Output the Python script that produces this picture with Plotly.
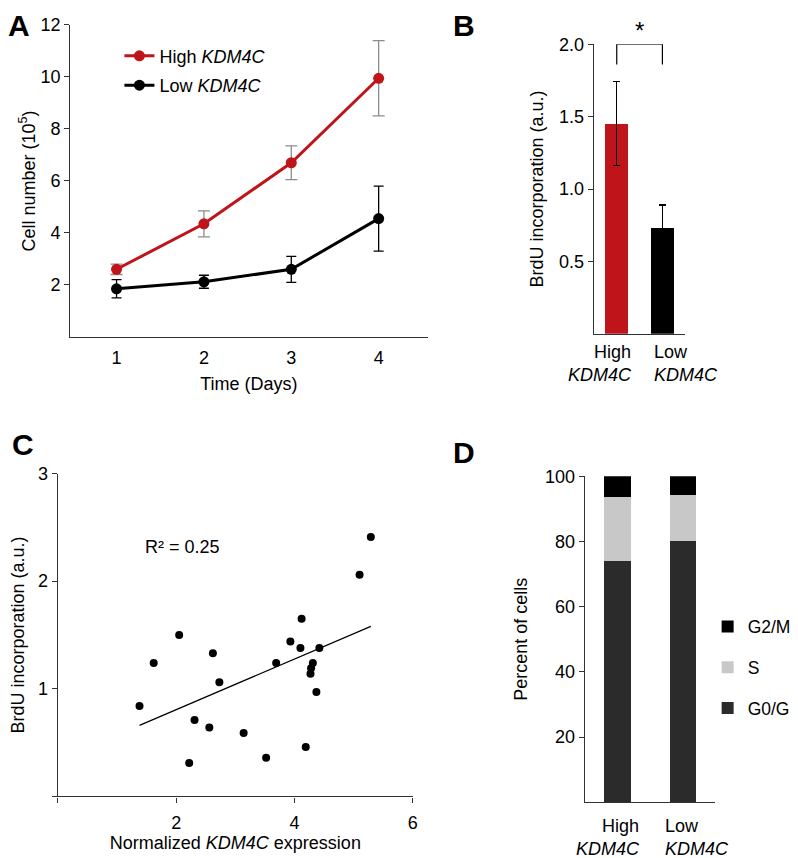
import plotly.graph_objects as go

# ---------------- data ----------------
# Panel A: cell growth
days = [1, 2, 3, 4]
high_cells = [2.6, 4.35, 6.7, 9.95]
high_err = [0.2, 0.5, 0.65, 1.45]
low_cells = [1.85, 2.12, 2.6, 4.55]
low_err = [0.35, 0.25, 0.5, 1.25]

# Panel B: BrdU incorporation
groups = ["High", "Low"]
gene = "KDM4C"
brdu_mean = [1.45, 0.73]
brdu_err = [0.29, 0.16]
bracket_top = 2.0
bracket_bottom = 1.86

# Panel C: scatter of BrdU vs KDM4C expression
expr = [1.38, 1.62, 2.05, 2.22, 2.31, 2.56, 2.62, 2.73, 3.14, 3.52, 3.69,
        3.93, 4.10, 4.12, 4.19, 4.27, 4.28, 4.31, 4.37, 4.42, 5.10, 5.29]
brdu = [0.84, 1.24, 1.50, 0.31, 0.71, 0.64, 1.33, 1.06, 0.59, 0.36, 1.24,
        1.44, 1.38, 1.65, 0.46, 1.14, 1.19, 1.24, 0.97, 1.38, 2.06, 2.41]
trend_x = [1.38, 5.29]
trend_y = [0.66, 1.58]
r2_text = "R² = 0.25"

# Panel D: cell cycle distribution
phases = ["G0/G1", "S", "G2/M"]
g0g1 = [74.0, 80.0]
s_phase = [19.5, 14.3]
g2m = [6.5, 5.7]
phase_colors = ["#2b2b2b", "#c8c8c8", "#000000"]
phase_rank = [3, 2, 1]

RED = "#c0141b"
FONT = "Liberation Sans, Arial, sans-serif"
W, H = 798, 858
FS = 18


def sx(s):
    # target screen x (px) -> paper fraction
    return ((s - 7.0) / 0.99) / W


def sy(s):
    # target screen y (px from top) -> paper fraction
    return 1 - ((s - 17.0) / 0.99) / H


def dom(a, b):
    return [max(0.0, min(1.0, a)), max(0.0, min(1.0, b))]


fig = go.Figure()

# ---- Panel A ----
fig.add_trace(go.Scatter(
    x=days, y=high_cells, mode="lines+markers", name="High <i>KDM4C</i>",
    line=dict(color=RED, width=3), marker=dict(color=RED, size=11),
    error_y=dict(type="data", array=high_err, color="#8c8c8c", thickness=1.3, width=6),
    xaxis="x", yaxis="y", legend="legend", legendgroup="a1"))
fig.add_trace(go.Scatter(
    x=days, y=low_cells, mode="lines+markers", name="Low <i>KDM4C</i>",
    line=dict(color="black", width=3), marker=dict(color="black", size=11),
    error_y=dict(type="data", array=low_err, color="black", thickness=1.3, width=5),
    xaxis="x", yaxis="y", legend="legend", legendgroup="a2"))

# ---- Panel B ----
fig.add_trace(go.Bar(
    x=groups, y=brdu_mean, width=0.5, marker=dict(color=[RED, "black"], line=dict(width=0)),
    error_y=dict(type="data", array=brdu_err, color="black", thickness=1.2, width=3.5),
    xaxis="x2", yaxis="y2", showlegend=False))
fig.add_trace(go.Scatter(
    x=[groups[0], groups[0], groups[1], groups[1]],
    y=[bracket_bottom, bracket_top, bracket_top, bracket_bottom],
    mode="lines", line=dict(color="black", width=1.2), cliponaxis=False,
    xaxis="x2", yaxis="y2", showlegend=False, hoverinfo="skip"))

# ---- Panel C ----
fig.add_trace(go.Scatter(
    x=expr, y=brdu, mode="markers", marker=dict(color="black", size=8),
    xaxis="x3", yaxis="y3", showlegend=False))
fig.add_trace(go.Scatter(
    x=trend_x, y=trend_y, mode="lines", line=dict(color="black", width=1.3),
    xaxis="x3", yaxis="y3", showlegend=False, hoverinfo="skip"))

# ---- Panel D ----
for name, vals, col, rank in zip(phases, [g0g1, s_phase, g2m], phase_colors, phase_rank):
    fig.add_trace(go.Bar(
        x=groups, y=vals, name=name, width=0.4,
        marker=dict(color=col, line=dict(width=0)),
        xaxis="x4", yaxis="y4", legend="legend2", legendgroup="d" + str(rank),
        legendrank=rank))

axis_common = dict(showline=True, linecolor="#333333", linewidth=1.3, showgrid=False,
                   zeroline=False, tickfont=dict(size=FS, color="black"),
                   tickcolor="#333333", ticklen=5, tickwidth=1.2)


def group_label(xref, yref, idx, xshift, yshift):
    left = idx == 0
    return dict(text=groups[idx] + "<br><i>" + gene + "</i>", x=groups[idx], y=0,
                xref=xref, yref=yref + " domain", xanchor="right" if left else "left",
                align="right" if left else "left", yanchor="top", showarrow=False,
                xshift=xshift, yshift=yshift, font=dict(size=FS))


def panel_label(txt, s_x, s_y):
    return dict(text="<b>" + txt + "</b>", x=sx(s_x), y=sy(s_y), xref="paper", yref="paper",
                xanchor="left", yanchor="top", showarrow=False, font=dict(size=30))


fig.update_layout(
    width=W, height=H, margin=dict(l=0, r=0, t=0, b=0),
    paper_bgcolor="white", plot_bgcolor="white",
    font=dict(family=FONT, size=FS, color="black"),
    barmode="stack",
    xaxis=dict(domain=dom(sx(69), sx(425)), range=[0.47, 4.56], tickvals=days,
               ticks="", anchor="y", ticklabelstandoff=4,
               title=dict(text="Time (Days)", font=dict(size=FS), standoff=10), **axis_common),
    yaxis=dict(domain=dom(sy(336.4), sy(24)), range=[0, 12], tickvals=[2, 4, 6, 8, 10, 12],
               ticks="outside", anchor="x",
               title=dict(text="Cell number (10<sup>5</sup>)", font=dict(size=FS), standoff=0),
               **axis_common),
    xaxis2=dict(domain=dom(sx(590.7), sx(681.7)), type="category", range=[-0.5, 1.5],
                ticks="", anchor="y2", showticklabels=False, **axis_common),
    yaxis2=dict(domain=dom(sy(333.3), sy(43.3)), range=[0, 2], tickvals=[0.5, 1.0, 1.5, 2.0],
                tickformat=".1f", ticks="outside", anchor="x2",
                title=dict(text="BrdU incorporation (a.u.)", font=dict(size=FS), standoff=10),
                **axis_common),
    xaxis3=dict(domain=dom(sx(56.7), sx(410.3)), range=[0, 6], tickvals=[0, 2, 4, 6],
                ticktext=["", "2", "4", "6"], ticks="outside", anchor="y3", ticklabelstandoff=5,
                title=dict(text="Normalized <i>KDM4C</i> expression", font=dict(size=FS), standoff=4),
                **axis_common),
    yaxis3=dict(domain=dom(sy(796.7), sy(473.3)), range=[0, 3], tickvals=[0, 1, 2, 3],
                ticktext=["", "1", "2", "3"], ticks="outside", anchor="x3",
                title=dict(text="BrdU incorporation (a.u.)", font=dict(size=FS), standoff=9),
                **axis_common),
    xaxis4=dict(domain=dom(sx(581.7), sx(711.7)), type="category", range=[-0.5, 1.5],
                ticks="", anchor="y4", showticklabels=False, **axis_common),
    yaxis4=dict(domain=dom(sy(802.7), sy(476)), range=[0, 100], tickvals=[20, 40, 60, 80, 100],
                ticks="outside", anchor="x4",
                title=dict(text="Percent of cells", font=dict(size=FS), standoff=12), **axis_common),
    legend=dict(x=sx(118), y=sy(36.6), xanchor="left", yanchor="top",
                bgcolor="rgba(0,0,0,0)", font=dict(size=FS), tracegroupgap=3,
                traceorder="grouped", itemwidth=30),
    legend2=dict(x=sx(704), y=sy(608.6), xanchor="left", yanchor="top",
                 bgcolor="rgba(0,0,0,0)", font=dict(size=17.5), tracegroupgap=15,
                 traceorder="grouped", itemwidth=30),
    annotations=[
        panel_label("A", 5, 6),
        panel_label("B", 448, 6),
        panel_label("C", 9, 426),
        panel_label("D", 448, 434),
        dict(text="*", x=0.5, y=bracket_top, xref="x2", yref="y2", yanchor="bottom",
             showarrow=False, font=dict(size=24), yshift=-2),
        dict(text=r2_text, x=1.44, y=2.32, xref="x3", yref="y3", xanchor="left",
             showarrow=False, font=dict(size=FS)),
        group_label("x2", "y2", 0, 17, -6),
        group_label("x2", "y2", 1, -10, -6),
        group_label("x4", "y4", 0, 25, -12),
        group_label("x4", "y4", 1, -20, -12),
    ],
)

fig.write_html("out.html")
